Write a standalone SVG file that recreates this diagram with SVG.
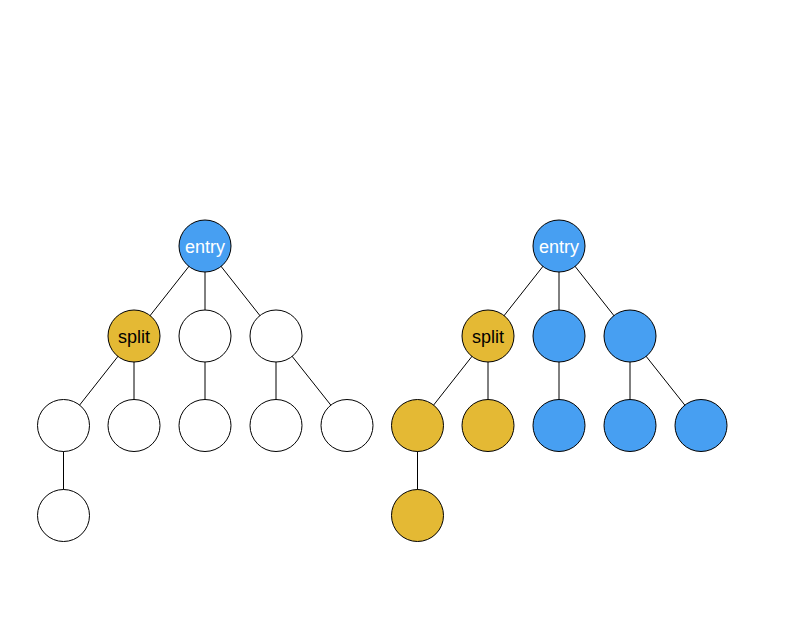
<svg xmlns="http://www.w3.org/2000/svg" width="802" height="617" viewBox="0 0 802 617">
<style>
.n{stroke:#000;stroke-width:1}
.w{fill:#fff}
.b{fill:#479ff2}
.g{fill:#e4b934}
.c line{stroke:#000;stroke-width:1}
text{font-family:"Liberation Sans",Arial,sans-serif;font-size:18px;text-anchor:middle}
</style>
<rect width="802" height="617" fill="#fff"/>
<g class="c" id="connectors">
<line x1="205" y1="246" x2="134" y2="336"/>
<line x1="205" y1="246" x2="205" y2="336"/>
<line x1="205" y1="246" x2="276" y2="336"/>
<line x1="134" y1="336" x2="63.5" y2="425.5"/>
<line x1="134" y1="336" x2="134" y2="425.5"/>
<line x1="205" y1="336" x2="205" y2="425.5"/>
<line x1="276" y1="336" x2="276" y2="425.5"/>
<line x1="276" y1="336" x2="347" y2="425.5"/>
<line x1="63.5" y1="425.5" x2="63.5" y2="515.5"/>
<line x1="559" y1="246" x2="488" y2="336"/>
<line x1="559" y1="246" x2="559" y2="336"/>
<line x1="559" y1="246" x2="630" y2="336"/>
<line x1="488" y1="336" x2="417.5" y2="425.5"/>
<line x1="488" y1="336" x2="488" y2="425.5"/>
<line x1="559" y1="336" x2="559" y2="425.5"/>
<line x1="630" y1="336" x2="630" y2="425.5"/>
<line x1="630" y1="336" x2="701" y2="425.5"/>
<line x1="417.5" y1="425.5" x2="417.5" y2="515.5"/>
</g>
<g id="L-entry"><circle class="n b" cx="205" cy="246" r="26"/><text x="205" y="253" fill="#fff">entry</text></g>
<g id="L-split"><circle class="n g" cx="134" cy="336" r="26"/><text x="134" y="343" fill="#000">split</text></g>
<g id="L-2b"><circle class="n w" cx="205" cy="336" r="26"/></g>
<g id="L-2c"><circle class="n w" cx="276" cy="336" r="26"/></g>
<g id="L-3a"><circle class="n w" cx="63.5" cy="425.5" r="26"/></g>
<g id="L-3b"><circle class="n w" cx="134" cy="425.5" r="26"/></g>
<g id="L-3c"><circle class="n w" cx="205" cy="425.5" r="26"/></g>
<g id="L-3d"><circle class="n w" cx="276" cy="425.5" r="26"/></g>
<g id="L-3e"><circle class="n w" cx="347" cy="425.5" r="26"/></g>
<g id="L-4a"><circle class="n w" cx="63.5" cy="515.5" r="26"/></g>
<g id="R-entry"><circle class="n b" cx="559" cy="246" r="26"/><text x="559" y="253" fill="#fff">entry</text></g>
<g id="R-split"><circle class="n g" cx="488" cy="336" r="26"/><text x="488" y="343" fill="#000">split</text></g>
<g id="R-2b"><circle class="n b" cx="559" cy="336" r="26"/></g>
<g id="R-2c"><circle class="n b" cx="630" cy="336" r="26"/></g>
<g id="R-3a"><circle class="n g" cx="417.5" cy="425.5" r="26"/></g>
<g id="R-3b"><circle class="n g" cx="488" cy="425.5" r="26"/></g>
<g id="R-3c"><circle class="n b" cx="559" cy="425.5" r="26"/></g>
<g id="R-3d"><circle class="n b" cx="630" cy="425.5" r="26"/></g>
<g id="R-3e"><circle class="n b" cx="701" cy="425.5" r="26"/></g>
<g id="R-4a"><circle class="n g" cx="417.5" cy="515.5" r="26"/></g>
</svg>
